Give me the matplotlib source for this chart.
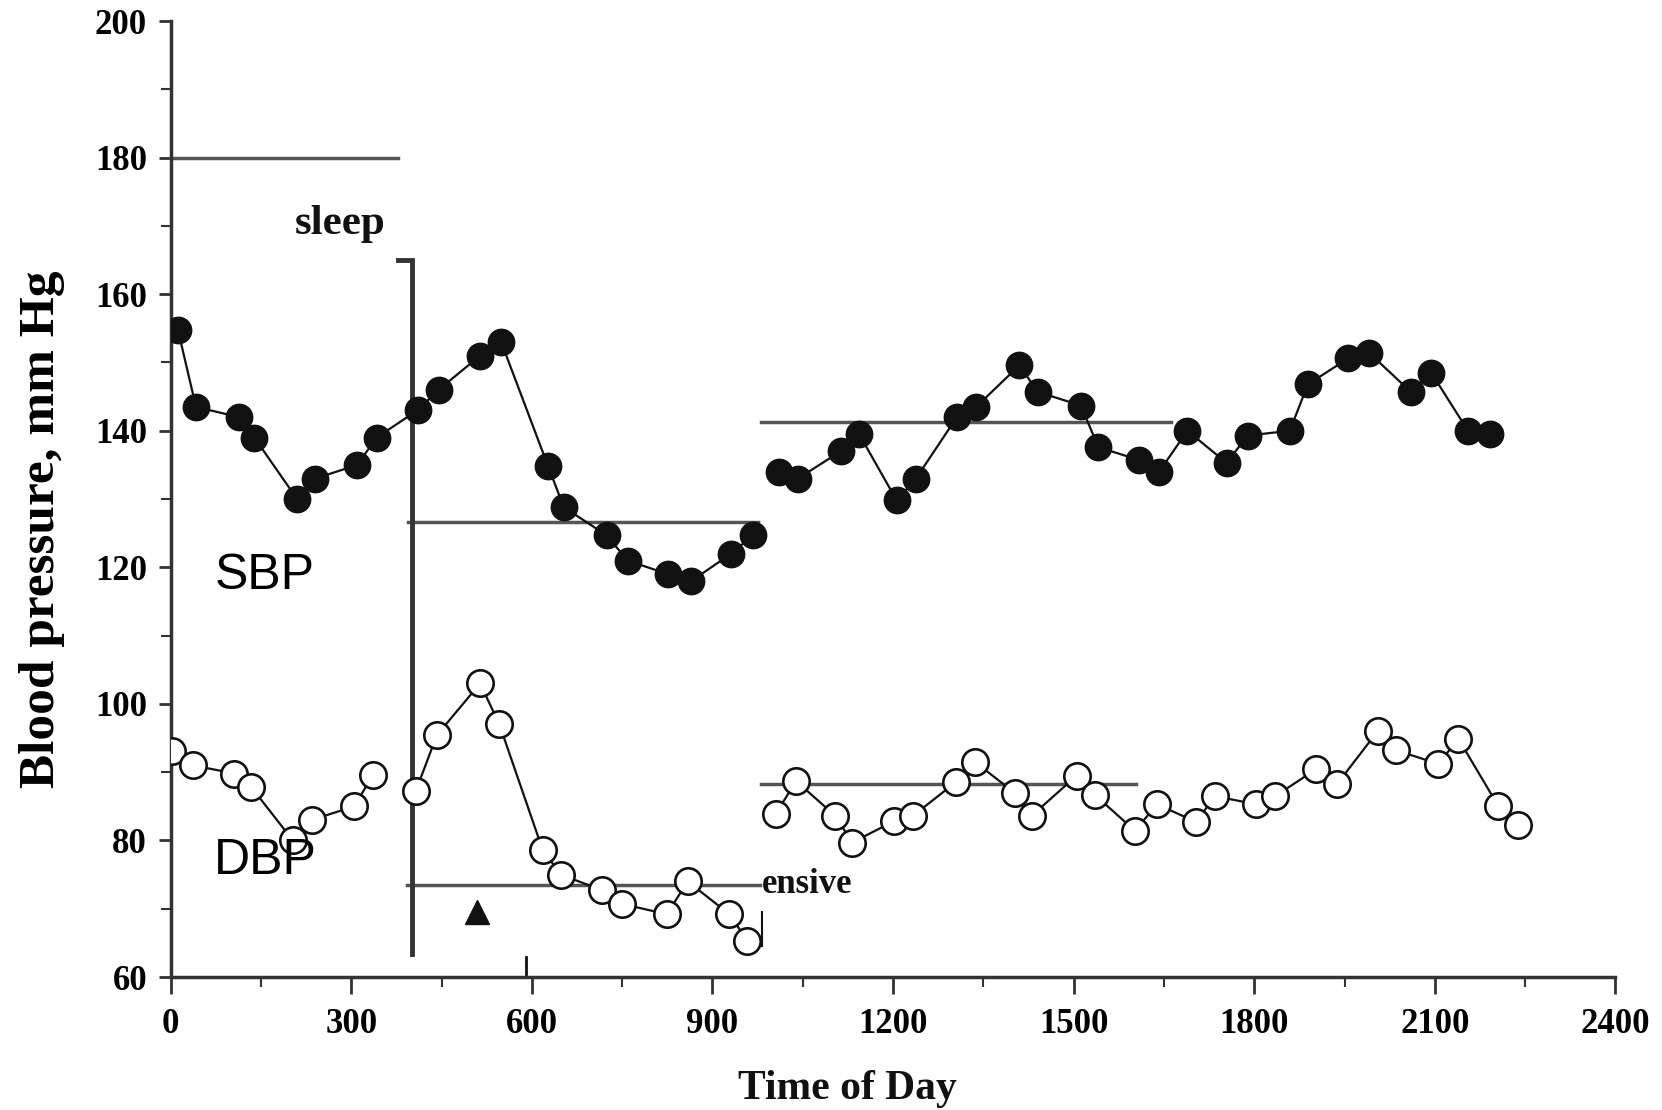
import matplotlib
matplotlib.use("Agg")
import matplotlib.pyplot as plt
from matplotlib.ticker import MultipleLocator

# ---- data ----
sbp_time_a = [12, 42, 113, 139, 210, 240, 310, 342, 410, 445, 514, 549, 627, 653, 724, 759, 826, 865, 931, 967]
sbp_a = [154.8, 143.5, 142, 139, 130, 133, 135, 139, 143, 146, 151, 153, 134.8, 128.8, 124.7, 121, 119, 118, 122, 124.7]
sbp_time_b = [1011, 1042, 1113, 1143, 1206, 1238, 1306, 1338, 1410, 1440, 1512, 1541, 1609, 1641, 1689,
              1754, 1789, 1859, 1889, 1956, 1991, 2060, 2094, 2155, 2192]
sbp_b = [133.9, 133, 137, 139.6, 129.8, 133, 142, 143.5, 149.6, 145.7, 143.7, 137.6, 135.7, 133.9, 140,
         135.3, 139.3, 140, 146.8, 150.6, 151.4, 145.7, 148.5, 140, 139.5]

dbp_time_a = [2, 37, 106, 134, 203, 234, 305, 336]
dbp_a = [93.1, 91, 89.8, 87.8, 80, 83, 85, 89.6]
dbp_time_b = [407, 442, 514, 546, 618, 648, 717, 750, 824, 859, 928, 958]
dbp_b = [87.2, 95.4, 103, 97, 78.6, 75, 72.7, 70.7, 69.2, 74, 69.2, 65.3]
dbp_time_c = [1005, 1039, 1104, 1132, 1201, 1233, 1305, 1336, 1403, 1430, 1505, 1535, 1602, 1638, 1704,
              1734, 1803, 1835, 1902, 1937, 2005, 2036, 2106, 2139, 2205, 2238]
dbp_c = [83.9, 88.7, 83.6, 79.7, 82.8, 83.6, 88.6, 91.5, 86.9, 83.6, 89.5, 86.7, 81.4, 85.3, 82.7,
         86.5, 85.3, 86.5, 90.4, 88.2, 96, 93.2, 91.2, 94.9, 85.1, 82.3]

# reference lines: (level, start, end)
ref_levels = [180, 126.6, 141.3, 88.2, 73.5]
ref_starts = [0, 395, 981, 981, 393]
ref_ends = [377, 975, 1662, 1604, 979]

x_ticks = [0, 300, 600, 900, 1200, 1500, 1800, 2100, 2400]
y_ticks = [60, 80, 100, 120, 140, 160, 180, 200]

# ---- figure ----
fig = plt.figure(figsize=(16.62, 11.10), dpi=100)
ax = fig.add_axes([0.1027, 0.1198, 0.8693, 0.8612])
ax.set_xlim(0, 2400)
ax.set_ylim(60, 200)

serif = "Liberation Serif"
ink = "#111111"
gray = "#555555"

for lvl, s, e in zip(ref_levels, ref_starts, ref_ends):
    ax.plot([s, e], [lvl, lvl], color=gray, lw=2.5, zorder=1)

# vertical marker line at ~400 with top hook
ax.plot([377, 401, 401], [165, 165, 63.4], color="#333333", lw=3.5, zorder=1, solid_joinstyle="miter")
# small vertical stubs
ax.plot([975, 975], [126.6, 123.5], color=gray, lw=2, zorder=1)
ax.plot([591, 591], [60, 63], color=ink, lw=2, zorder=1)
ax.plot([983, 983], [69.5, 64.5], color=ink, lw=1.5, zorder=1)

mk = dict(marker="o", markersize=19, color=ink, lw=1.6, zorder=3)
ax.plot(sbp_time_a, sbp_a, markerfacecolor=ink, markeredgecolor=ink, **mk)
ax.plot(sbp_time_b, sbp_b, markerfacecolor=ink, markeredgecolor=ink, **mk)
for t, v in [(dbp_time_a, dbp_a), (dbp_time_b, dbp_b), (dbp_time_c, dbp_c)]:
    ax.plot(t, v, markerfacecolor="white", markeredgecolor=ink, markeredgewidth=1.9, **mk)

# texts
ax.text(282, 170.3, "sleep", family=serif, weight="bold", fontsize=31, ha="center", va="center", color=ink)
ax.text(1057, 73.5, "ensive", family=serif, weight="bold", fontsize=25, ha="center", va="center", color=ink)
ax.text(157, 118.7, "SBP", family="Liberation Sans", fontsize=36, ha="center", va="center", color="black")
ax.text(157, 77, "DBP", family="Liberation Sans", fontsize=36, ha="center", va="center", color="black")
ax.plot([509], [69.5], marker="^", markersize=17, color=ink, zorder=3)

# axes styling
for side in ["top", "right"]:
    ax.spines[side].set_visible(False)
for side in ["left", "bottom"]:
    ax.spines[side].set_linewidth(2.5)
    ax.spines[side].set_color("#333333")

ax.set_xticks(x_ticks)
ax.set_yticks(y_ticks)
ax.xaxis.set_minor_locator(MultipleLocator(150))
ax.yaxis.set_minor_locator(MultipleLocator(10))
ax.tick_params(which="major", direction="out", length=12, width=2, color="#333333", pad=10)
ax.tick_params(which="minor", direction="out", length=7, width=1.5, color="#333333")
ax.tick_params(axis="y", which="major", length=9, pad=8)
for lab in ax.get_xticklabels() + ax.get_yticklabels():
    lab.set_family(serif)
    lab.set_fontweight("bold")
    lab.set_fontsize(25)

fig.text(0.510, 0.010, "Time of Day", family=serif, weight="bold", fontsize=30,
         ha="center", va="baseline", color=ink)
ax.set_ylabel("Blood pressure, mm Hg", family=serif, weight="bold", fontsize=37)
ax.yaxis.set_label_coords(-0.073, 0.468)

fig.savefig("out.png", dpi=100)
